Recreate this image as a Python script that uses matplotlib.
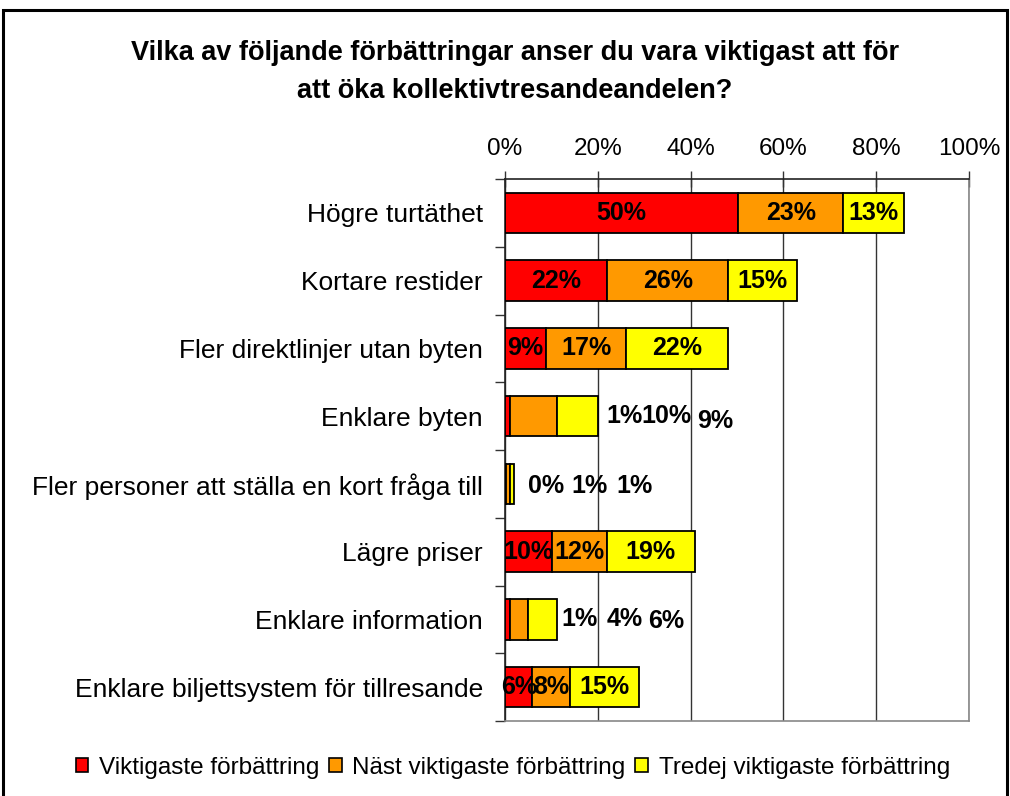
import matplotlib
matplotlib.use('Agg')
import matplotlib.pyplot as plt
from matplotlib.patches import Patch, Rectangle

plt.rcParams['font.family'] = ['Liberation Sans', 'DejaVu Sans']

# data (percent)
categories = ['Högre turtäthet', 'Kortare restider', 'Fler direktlinjer utan byten',
              'Enklare byten', 'Fler personer att ställa en kort fråga till',
              'Lägre priser', 'Enklare information', 'Enklare biljettsystem för tillresande']
viktigaste = [50.3, 22.0, 8.9, 1.1, 0.2, 10.1, 1.1, 5.9]
nast = [22.6, 26.1, 17.2, 10.1, 0.8, 11.9, 3.8, 8.2]
tredje = [13.1, 14.9, 21.9, 8.9, 0.9, 18.9, 6.3, 14.8]
series_names = ['Viktigaste förbättring', 'Näst viktigaste förbättring', 'Tredej viktigaste förbättring']
colors = ['#FF0000', '#FF9900', '#FFFF00']
xticks = [0, 20, 40, 60, 80, 100]

# rows whose labels sit to the right of the bar: (x of each label, y shift)
outside = {
    3: ([21.8, 29.4, 41.3], [0.0, 0.0, 0.07]),
    4: ([4.9, 14.4, 23.9], [0.03, 0.03, 0.03]),
    6: ([12.2, 21.8, 30.9], [0.0, 0.0, 0.03]),
}

FS = 17.5
W, H = 1010, 796
fig = plt.figure(figsize=(W / 100, H / 100), dpi=100)
ax = fig.add_axes([505 / W, 1 - 721 / H, (969 - 505) / W, (721 - 179) / H])

y = list(range(len(categories)))
left = [0.0] * len(categories)
for vals, col, name in zip([viktigaste, nast, tredje], colors, series_names):
    ax.barh(y, vals, left=left, height=0.6, color=col, edgecolor='black',
            linewidth=1.3, label=name, zorder=3)
    for i, v in enumerate(vals):
        if i not in outside:
            ax.text(left[i] + v / 2, i, f'{round(v)}%', ha='center', va='center',
                    fontsize=FS + 0.5, fontweight='bold', zorder=4)
    left = [l + v for l, v in zip(left, vals)]

for i, (xs, dys) in outside.items():
    for k, vals in enumerate([viktigaste, nast, tredje]):
        ax.text(xs[k], i + dys[k], f'{round(vals[i])}%', ha='left', va='center',
                fontsize=FS + 0.5, fontweight='bold', zorder=4)

ax.set_xlim(0, 100)
ax.set_ylim(len(categories) - 0.5, -0.5)
ax.xaxis.tick_top()
ax.set_xticks(xticks)
ax.set_xticklabels([f'{t}%' for t in xticks], fontsize=FS)
ax.tick_params(axis='x', direction='inout', length=12, width=1, pad=8, color='#333333')
ax.set_yticks(y)
ax.set_yticklabels(categories, fontsize=19)
ax.tick_params(axis='y', which='major', length=0, pad=16)
ax.set_yticks([i - 0.5 for i in range(len(categories) + 1)], minor=True)
ax.tick_params(axis='y', which='minor', direction='out', length=7, width=1, color='#333333')

ax.grid(axis='x', color='#333333', linewidth=1)
ax.set_axisbelow(True)
ax.spines['top'].set_color('#222222')
ax.spines['left'].set_color('#222222')
ax.spines['right'].set_color('#888888')
ax.spines['bottom'].set_color('#888888')
for s in ax.spines.values():
    s.set_linewidth(1.2)

fig.text(515 / W, 1 - 53 / H, 'Vilka av följande förbättringar anser du vara viktigast att för',
         ha='center', va='center', fontsize=19.5, fontweight='bold')
fig.text(515 / W, 1 - 91 / H, 'att öka kollektivtresandeandelen?',
         ha='center', va='center', fontsize=19.5, fontweight='bold')

handles = [Patch(facecolor=c, edgecolor='black', linewidth=1.2) for c in colors]
fig.legend(handles, series_names, loc='center', bbox_to_anchor=(513 / W, 1 - 768 / H),
           ncol=3, frameon=False, fontsize=FS, handlelength=0.5, handleheight=0.5,
           handletextpad=0.45, columnspacing=0.4)

fig.add_artist(Rectangle((3 / W, -0.05), 1004 / W, 1 - 10 / H + 0.05, transform=fig.transFigure,
                         fill=False, edgecolor='black', linewidth=2.2))

fig.savefig('out.png', dpi=100)
